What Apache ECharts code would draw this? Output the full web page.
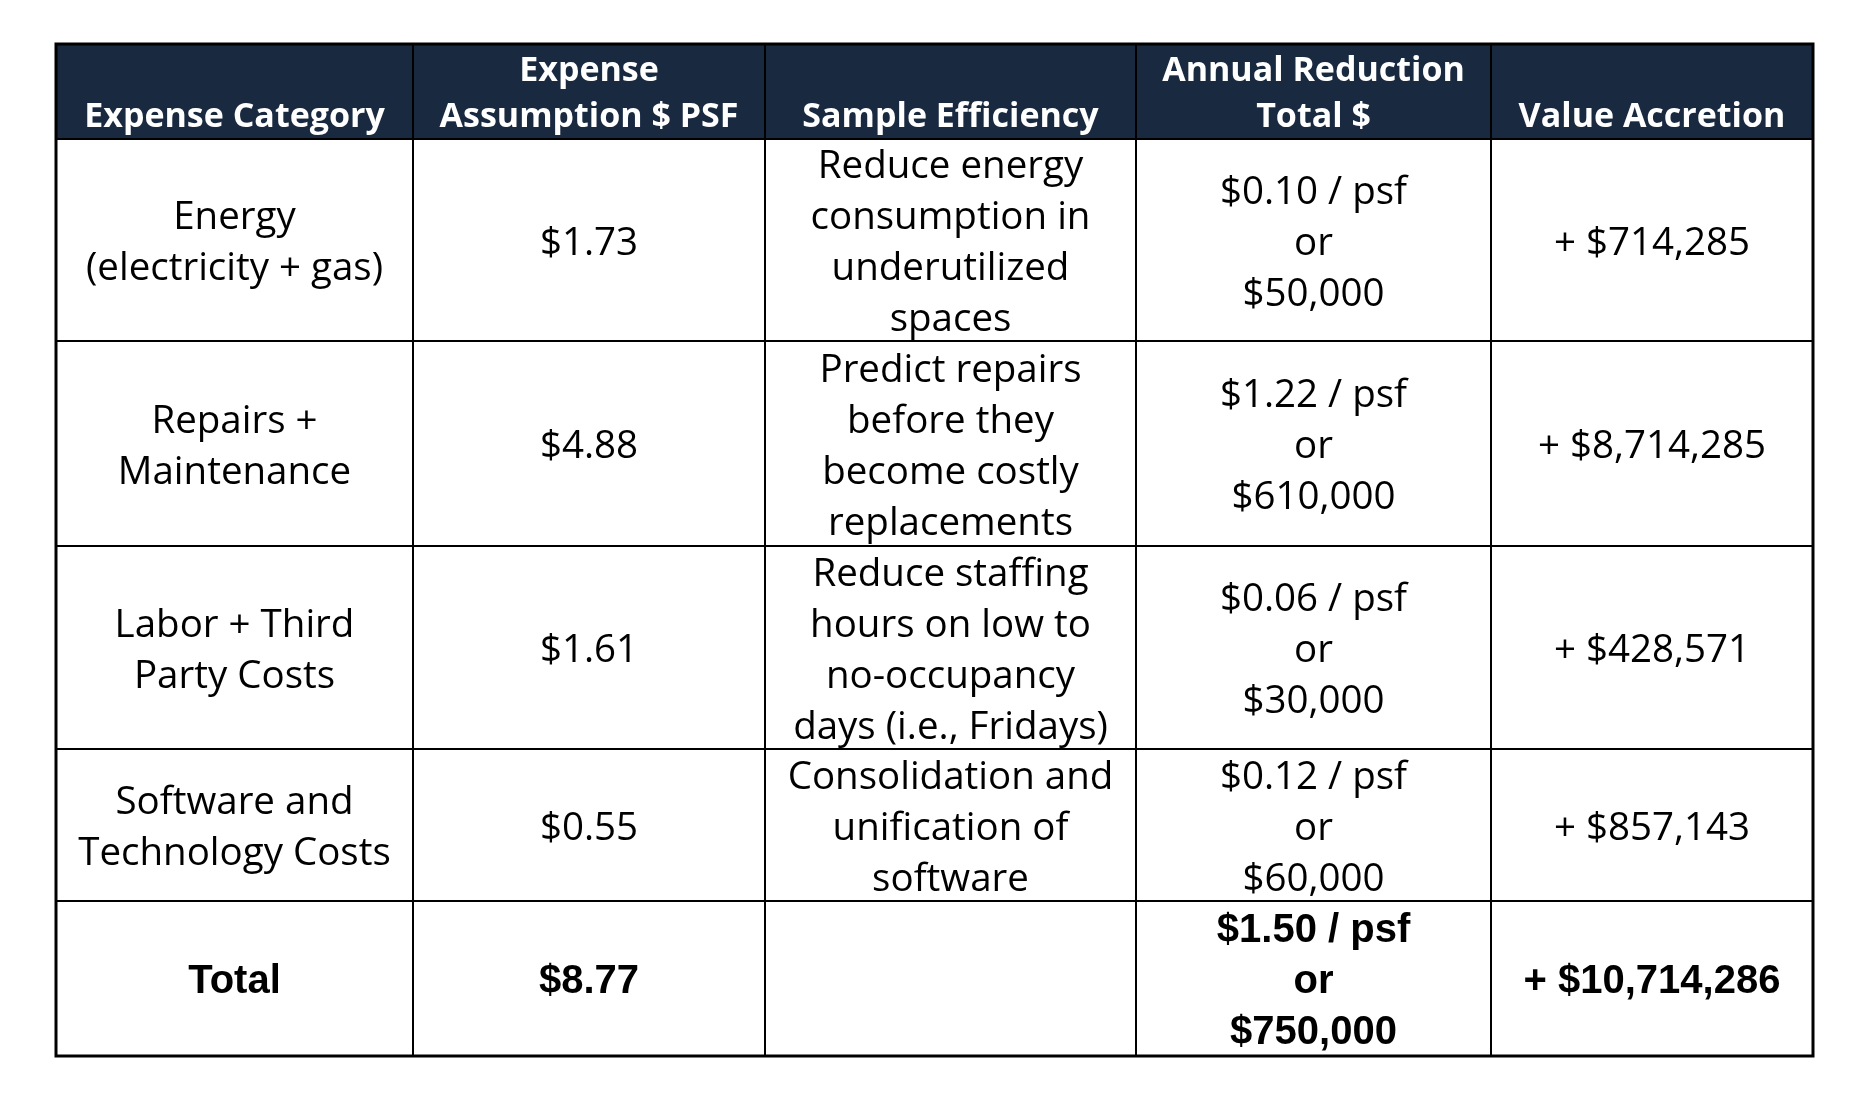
<!DOCTYPE html>
<html>
<head>
<meta charset="utf-8">
<script src="https://cdn.jsdelivr.net/npm/echarts@6/dist/echarts.min.js"></script>
<style>
  html, body { margin: 0; padding: 0; background: #ffffff; }
  #chart { width: 1876px; height: 1098px; }
</style>
</head>
<body>
<div id="chart"></div>
<script>
// ---- data ----
const headers = ['Expense Category', 'Expense\nAssumption $ PSF', 'Sample Efficiency', 'Annual Reduction\nTotal $', 'Value Accretion'];
const categories = ['Energy\n(electricity + gas)', 'Repairs +\nMaintenance', 'Labor + Third\nParty Costs', 'Software and\nTechnology Costs'];
const assumptionPsf = [1.73, 4.88, 1.61, 0.55];
const efficiencies = [
  'Reduce energy\nconsumption in\nunderutilized\nspaces',
  'Predict repairs\nbefore they\nbecome costly\nreplacements',
  'Reduce staffing\nhours on low to\nno-occupancy\ndays (i.e., Fridays)',
  'Consolidation and\nunification of\nsoftware'
];
const reductionPsf = [0.10, 1.22, 0.06, 0.12];
const reductionTotal = [50000, 610000, 30000, 60000];
const valueAccretion = [714285, 8714285, 428571, 857143];
const totalLabel = 'Total';
const totalAssumptionPsf = 8.77;
const totalReductionPsf = 1.50;
const totalReductionTotal = 750000;
const totalValueAccretion = 10714286;

// ---- layout (table units) ----
const colEdges = [0, 357, 709, 1080, 1435, 1757];
const rowEdges = [0, 95, 297, 502, 705, 857, 1012];

const money0 = v => '$' + v.toLocaleString('en-US');
const money2 = v => '$' + v.toFixed(2);
const reductionText = (p, t) => money2(p) + ' / psf\nor\n' + money0(t);

// build cells
const cells = [];
headers.forEach((h, c) => cells.push({ c, r: 0, text: h, kind: 'header' }));
categories.forEach((cat, i) => {
  const r = i + 1;
  cells.push({ c: 0, r, text: cat, kind: 'body' });
  cells.push({ c: 1, r, text: money2(assumptionPsf[i]), kind: 'body' });
  cells.push({ c: 2, r, text: efficiencies[i], kind: 'body' });
  cells.push({ c: 3, r, text: reductionText(reductionPsf[i], reductionTotal[i]), kind: 'body' });
  cells.push({ c: 4, r, text: '+ ' + money0(valueAccretion[i]), kind: 'body' });
});
const tr = categories.length + 1;
cells.push({ c: 0, r: tr, text: totalLabel, kind: 'total' });
cells.push({ c: 1, r: tr, text: money2(totalAssumptionPsf), kind: 'total' });
cells.push({ c: 2, r: tr, text: '', kind: 'total' });
cells.push({ c: 3, r: tr, text: reductionText(totalReductionPsf, totalReductionTotal), kind: 'total' });
cells.push({ c: 4, r: tr, text: '+ ' + money0(totalValueAccretion), kind: 'total' });

const HEADER_BG = '#182940';

const chart = echarts.init(document.getElementById('chart'));
chart.setOption({
  animation: false,
  backgroundColor: '#ffffff',
  grid: { left: 56, top: 44, width: 1757, height: 1012, show: false },
  xAxis: { type: 'value', min: 0, max: colEdges[colEdges.length - 1], show: false },
  yAxis: { type: 'value', min: 0, max: rowEdges[rowEdges.length - 1], inverse: true, show: false },
  tooltip: { show: false },
  series: [
    {
      type: 'custom',
      coordinateSystem: 'cartesian2d',
      data: cells.map(d => [d.c, d.r]),
      silent: true,
      renderItem: function (params, api) {
        const d = cells[params.dataIndex];
        const p0 = api.coord([colEdges[d.c], rowEdges[d.r]]);
        const p1 = api.coord([colEdges[d.c + 1], rowEdges[d.r + 1]]);
        const x = p0[0], y = p0[1], w = p1[0] - p0[0], h = p1[1] - p0[1];
        let textStyle;
        if (d.kind === 'header') {
          textStyle = {
            text: d.text, x: x + w / 2, y: y + h + 1,
            align: 'center', verticalAlign: 'bottom',
            font: 'bold 34px "Open Sans"', fill: '#ffffff', lineHeight: 46
          };
        } else if (d.kind === 'body') {
          textStyle = {
            text: d.text, x: x + w / 2, y: y + h / 2 + 4,
            align: 'center', verticalAlign: 'middle',
            font: '38.5px "Open Sans"', fill: '#000000', lineHeight: 51
          };
        } else {
          textStyle = {
            text: d.text, x: x + w / 2, y: y + h / 2 + 3,
            align: 'center', verticalAlign: 'middle',
            font: 'bold 40px "Liberation Sans"', fill: '#000000', lineHeight: 51
          };
        }
        return {
          type: 'group',
          children: [
            {
              type: 'rect',
              shape: { x, y, width: w, height: h },
              style: { fill: d.kind === 'header' ? HEADER_BG : '#ffffff', stroke: '#000000', lineWidth: 2 }
            },
            { type: 'text', style: textStyle }
          ]
        };
      },
      z: 2
    },
    {
      type: 'custom',
      coordinateSystem: 'cartesian2d',
      data: [[0, 0]],
      silent: true,
      renderItem: function (params, api) {
        const p0 = api.coord([colEdges[0], rowEdges[0]]);
        const p1 = api.coord([colEdges[colEdges.length - 1], rowEdges[rowEdges.length - 1]]);
        return {
          type: 'rect',
          shape: { x: p0[0], y: p0[1], width: p1[0] - p0[0], height: p1[1] - p0[1] },
          style: { fill: 'none', stroke: '#000000', lineWidth: 3 }
        };
      },
      z: 3
    }
  ]
});
</script>
</body>
</html>
